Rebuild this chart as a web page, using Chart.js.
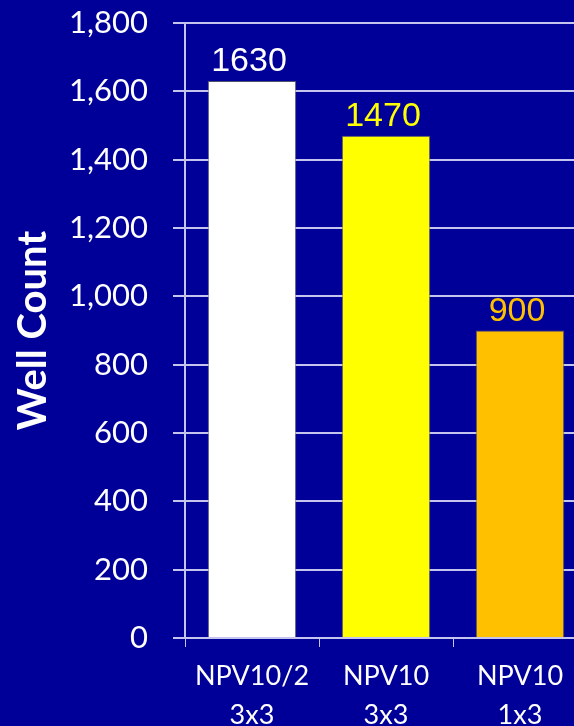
<!DOCTYPE html>
<html>
<head>
<meta charset="utf-8">
<title>Well Count</title>
<script src="https://cdn.jsdelivr.net/npm/chart.js@4.4.1/dist/chart.umd.min.js"></script>
<style>
  html, body { margin: 0; padding: 0; background: #000099; overflow: hidden; }
  #wrap { position: relative; width: 600px; height: 726px; }
</style>
</head>
<body>
<div id="wrap"><canvas id="wellChart"></canvas></div>
<script>
// data
var categories = [['NPV10/2', '3x3'], ['NPV10', '3x3'], ['NPV10', '1x3']];
var wellCounts = [1630, 1470, 900];
var yMin = 0, yMax = 1800, yStep = 200;

var barColors = ['#ffffff', '#ffff00', '#ffc000'];
var gridColor = '#c4c4ee';

// draws the value above each bar, in the bar's colour
var valueLabels = {
  id: 'valueLabels',
  afterDatasetsDraw: function (chart) {
    var ctx = chart.ctx;
    var meta = chart.getDatasetMeta(0);
    ctx.save();
    ctx.font = '34px "Liberation Sans", Arial, sans-serif';
    ctx.textAlign = 'center';
    ctx.textBaseline = 'alphabetic';
    meta.data.forEach(function (bar, i) {
      ctx.fillStyle = barColors[i % barColors.length];
      ctx.fillText(String(wellCounts[i]), bar.x - 3, bar.y - 10);
    });
    ctx.restore();
  }
};

(function () {
  var ctx = document.getElementById('wellChart').getContext('2d');
  new Chart(ctx, {
    type: 'bar',
    data: {
      labels: categories,
      datasets: [{
        label: 'Well Count',
        data: wellCounts,
        backgroundColor: barColors,
        borderColor: 'rgba(100,100,100,0.8)',
        borderWidth: 1,
        barPercentage: 0.66,
        categoryPercentage: 1
      }]
    },
    options: {
      responsive: true,
      maintainAspectRatio: false,
      animation: false,
      layout: { padding: { top: 23, right: 13, bottom: 0, left: 0 } },
      plugins: {
        legend: { display: false },
        tooltip: { enabled: false }
      },
      scales: {
        x: {
          offset: true,
          afterFit: function (s) { s.height = 88; s.paddingLeft = 0; s.paddingRight = 0; },
          grid: { drawOnChartArea: false, drawTicks: true, tickLength: 9, color: gridColor, offset: true },
          border: { color: gridColor, width: 2 },
          ticks: {
            color: '#ffffff',
            padding: 10,
            maxRotation: 0,
            font: { family: 'Lato, "Open Sans", sans-serif', size: 27, lineHeight: 1.45 }
          }
        },
        y: {
          min: yMin,
          max: yMax,
          // fixed axis width, and no extra room reserved for the end labels
          afterFit: function (s) { s.width = 185; s.paddingTop = 0; s.paddingBottom = 0; },
          grid: { color: gridColor, lineWidth: 2, tickLength: 12 },
          border: { color: gridColor, width: 2 },
          ticks: {
            stepSize: yStep,
            color: '#ffffff',
            padding: 25,
            font: { family: 'Lato, "Open Sans", sans-serif', size: 31 },
            callback: function (v) { return v.toLocaleString('en-US'); }
          },
          title: {
            display: true,
            text: 'Well Count',
            color: '#ffffff',
            padding: { top: 12, bottom: 0 },
            font: { family: 'Lato, "Open Sans", sans-serif', size: 40, weight: 'bold', lineHeight: 1.05 }
          }
        }
      }
    },
    plugins: [valueLabels]
  });
})();
</script>
</body>
</html>
